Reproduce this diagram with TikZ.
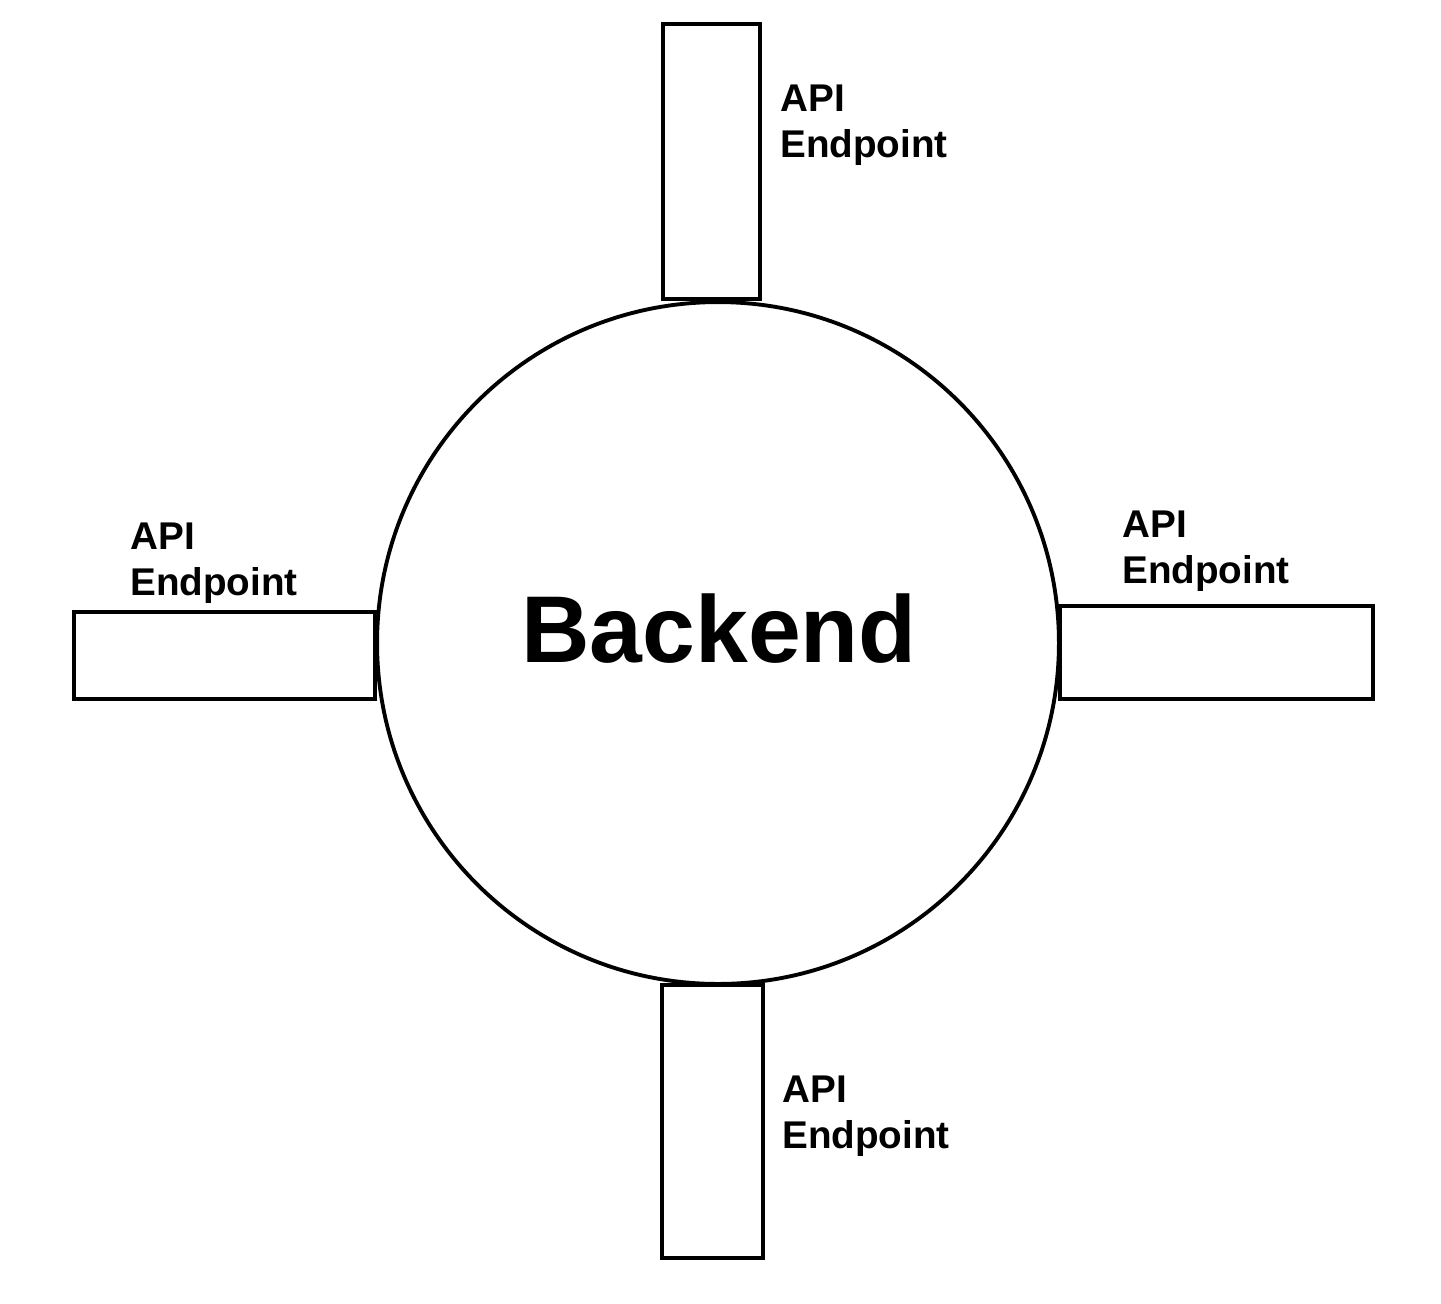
\documentclass[tikz,border=0pt]{standalone}
\usepackage{fontspec}
\setmainfont{Liberation Sans}
\tikzset{
  edge/.style={line width=2.2pt},
  apilabel/.style={anchor=north west,inner sep=0pt,align=left,font=\bfseries\fontsize{22}{26}\selectfont}
}

\begin{document}
\begin{tikzpicture}[x=0.02cm,y=-0.02cm]
  \useasboundingbox (0,0) rectangle (1441,1303);
  \draw[edge] (718,643) circle[radius=6.82cm];
  \node[inner sep=0pt,anchor=base,font=\bfseries\fontsize{54}{60}\selectfont] (backend) at (719,662) {Backend};

  \draw[edge] (663,24) rectangle (760,299);
  \draw[edge] (662,985) rectangle (763,1258);
  \draw[edge] (74,612) rectangle (375,699);
  \draw[edge] (1060,606) rectangle (1373,699);

  \node[apilabel] (topapi) at (780,85) {API\\Endpoint};
  \node[apilabel] (rightapi) at (1122,511) {API\\Endpoint};
  \node[apilabel] (leftapi) at (130,523) {API\\Endpoint};
  \node[apilabel] (bottomapi) at (782,1076) {API\\Endpoint};
\end{tikzpicture}
\end{document}
